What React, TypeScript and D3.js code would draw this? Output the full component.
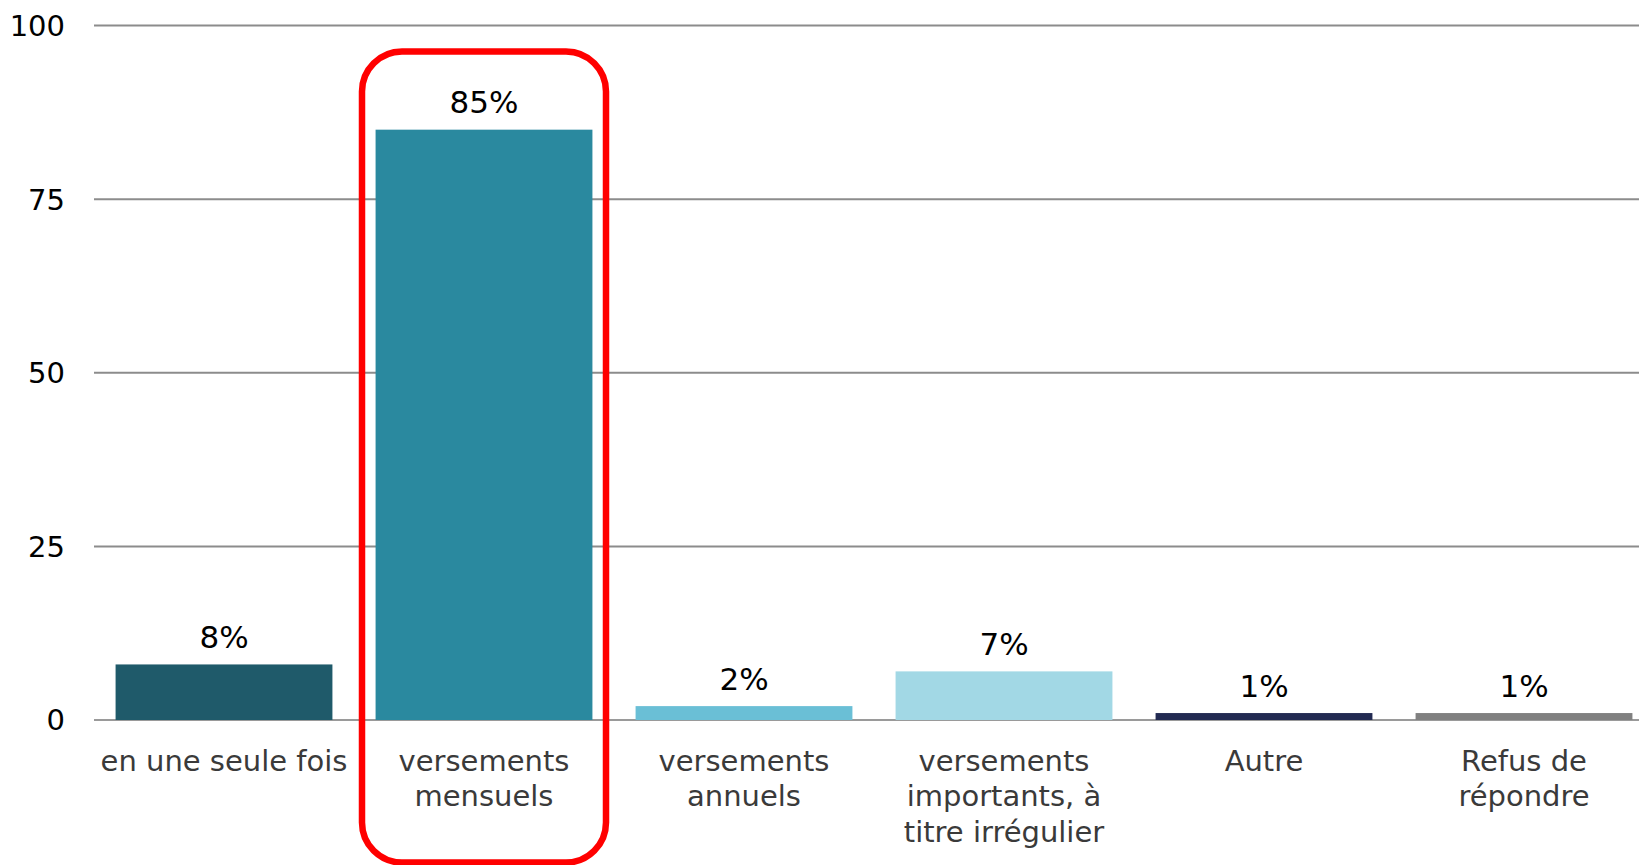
import React from "react";
import * as d3 from "d3";

const categories: string[][] = [
  ["en une seule fois"],
  ["versements", "mensuels"],
  ["versements", "annuels"],
  ["versements", "importants, à", "titre irrégulier"],
  ["Autre"],
  ["Refus de", "répondre"],
];
const values: number[] = [8, 85, 2, 7, 1, 1];
const valueLabels: string[] = ["8%", "85%", "2%", "7%", "1%", "1%"];
const colors: string[] = ["#1F5A6A", "#2A899F", "#6ABFD6", "#A2D8E5", "#222A52", "#808080"];
const yTicks: number[] = [0, 25, 50, 75, 100];
const highlightIndex = 1;

const W = 1639;
const H = 865;
const FONT = "'DejaVu Sans', Verdana, sans-serif";

export default function App() {
  if (typeof document !== "undefined") {
    document.body.style.margin = "0";
  }
  const keys = categories.map((_, i) => String(i));
  const x = d3.scaleBand<string>().domain(keys).range([94, 1654]).paddingInner(0.166).paddingOuter(0.083);
  const y = d3.scaleLinear().domain([0, 100]).range([720, 25.5]);
  const bw = x.bandwidth();
  const hx = (x(String(highlightIndex)) as number) + bw / 2;

  return (
    <svg width={W} height={H} style={{ display: "block" }}>
      <rect x={0} y={0} width={W} height={H} fill="#ffffff" />
      {yTicks.map((t) => (
        <g key={t}>
          <line x1={94} x2={W} y1={y(t)} y2={y(t)} stroke={t === 0 ? "#9a9a9a" : "#8c8c8c"} strokeWidth={2} />
          <text x={65} y={y(t)} dy="0.36em" textAnchor="end" fontFamily={FONT} fontSize={29} fill="#000">
            {t}
          </text>
        </g>
      ))}
      {values.map((v, i) => {
        const bx = x(String(i)) as number;
        return (
          <g key={i}>
            <rect x={bx} y={y(v)} width={bw} height={y(0) - y(v)} fill={colors[i]} />
            <text
              x={bx + bw / 2}
              y={y(v) - 16.5}
              textAnchor="middle"
              fontFamily={FONT}
              fontSize={31}
              fill="#000"
            >
              {valueLabels[i]}
            </text>
            <text textAnchor="middle" fontFamily={FONT} fontSize={29} fill="#3a3a3a">
              {categories[i].map((line, j) => (
                <tspan key={j} x={bx + bw / 2} y={770.5 + j * 35.5}>
                  {line}
                </tspan>
              ))}
            </text>
          </g>
        );
      })}
      <rect
        x={hx - 122}
        y={51.5}
        width={244}
        height={811}
        rx={40}
        ry={40}
        fill="none"
        stroke="#FF0000"
        strokeWidth={6.5}
      />
    </svg>
  );
}
